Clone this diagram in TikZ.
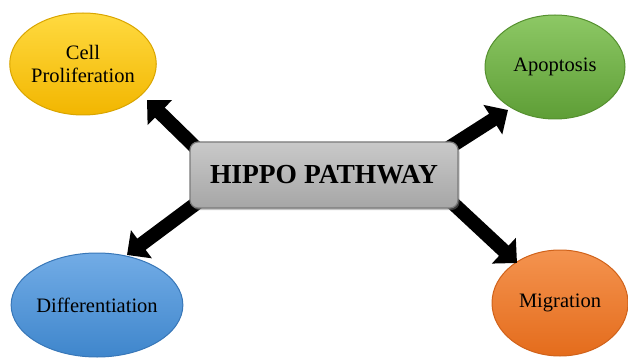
\documentclass[tikz,border=0pt]{standalone}
\usepackage{fontspec}
\setmainfont{Liberation Serif}
\usetikzlibrary{shapes.geometric,arrows.meta,shadows}
\definecolor{ytop}{HTML}{FFDA40}\definecolor{ybot}{HTML}{F2B600}\definecolor{ybrd}{HTML}{D9A500}
\definecolor{gtop}{HTML}{8DC865}\definecolor{gbot}{HTML}{5E9E36}\definecolor{gbrd}{HTML}{55902F}
\definecolor{btop}{HTML}{72ACE6}\definecolor{bbot}{HTML}{3F86CC}\definecolor{bbrd}{HTML}{3877B8}
\definecolor{otop}{HTML}{F4934F}\definecolor{obot}{HTML}{E46C1C}\definecolor{obrd}{HTML}{D0621A}
\definecolor{boxtop}{HTML}{C9C9C9}\definecolor{boxbot}{HTML}{A6A6A6}\definecolor{boxbrd}{HTML}{7A7A7A}
\tikzset{
  blob/.style={ellipse, line width=1pt, align=center, font=\fontsize{20.5}{23}\selectfont, text=black, inner sep=0pt},
  bigarrow/.style={line width=14pt, black, -{Triangle[width=34pt,length=18pt]}, shorten <=-12pt},
  hub/.style={rectangle, rounded corners=8pt, draw=boxbrd, line width=1.2pt, top color=boxtop, bottom color=boxbot,
    minimum width=268pt, minimum height=66pt, drop shadow={shadow xshift=1.5pt, shadow yshift=-2pt, opacity=0.45},
    font=\fontsize{27.5}{30}\selectfont\bfseries}
}
\begin{document}
\begin{tikzpicture}[x=1pt,y=-1pt]
\useasboundingbox (0,0) rectangle (628,358);
% ellipses
\node[blob, draw=ybrd, top color=ytop, bottom color=ybot, minimum width=146pt, minimum height=102pt] (cp) at (83,64) {Cell\\Proliferation};
\node[blob, draw=gbrd, top color=gtop, bottom color=gbot, minimum width=140pt, minimum height=104pt] (ap) at (555,67) {Apoptosis};
\node[blob, draw=bbrd, top color=btop, bottom color=bbot, minimum width=168pt, minimum height=104pt] (df) at (97,305) {Differentiation};
\node[blob, draw=obrd, top color=otop, bottom color=obot, minimum width=136pt, minimum height=106pt] (mg) at (560,303) {Migration};
% arrow tips
\coordinate (t1) at (147,100);
\coordinate (t2) at (508,110);
\coordinate (t3) at (127,255);
\coordinate (t4) at (517,263);
% hub placeholder for anchors
\path (324,175) node[rectangle, minimum width=268pt, minimum height=66pt] (hubpos) {};
\draw[bigarrow] (hubpos.north west) -- (t1);
\draw[bigarrow] (hubpos.north east) -- (t2);
\draw[bigarrow] (hubpos.south west) -- (t3);
\draw[bigarrow] (hubpos.south east) -- (t4);
\node[hub] (hub) at (324,175) {HIPPO PATHWAY};
\end{tikzpicture}
\end{document}
